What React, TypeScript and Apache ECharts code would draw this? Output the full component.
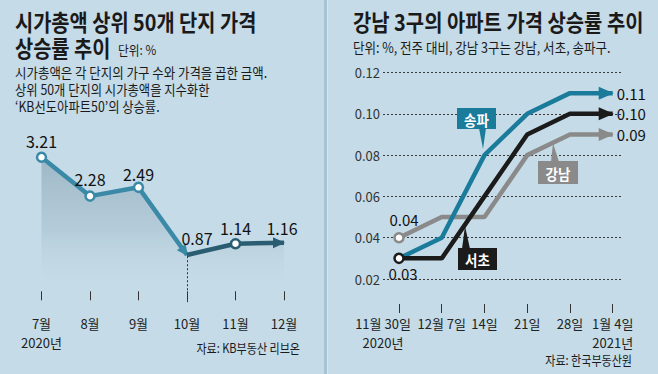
import React, { useEffect, useRef } from "react";
import * as echarts from "echarts";

// ---- data ----
const leftMonths = ["7월\n2020년", "8월", "9월", "10월", "11월", "12월"];
const leftValues = [3.21, 2.28, 2.49, 0.87, 1.14, 1.16];

const rightWeeks = ["11월 30일\n2020년", "12월 7일", "14일", "21일", "28일", "1월 4일\n2021년"];
const gangnam = [0.04, 0.05, 0.05, 0.08, 0.09, 0.09];
const seocho = [0.03, 0.03, 0.06, 0.09, 0.1, 0.1];
const songpa = [0.03, 0.04, 0.08, 0.1, 0.11, 0.11];

// ---- style ----
const BG = "#c5dbe7";
const TEAL_L = "#3a8aa7";
const DARK_L = "#2b5d72";
const TEAL = "#1b7b9b";
const GRAY = "#8a8a8a";
const BLACK = "#1b1b1b";
const KR = "'Noto Sans CJK KR', sans-serif";
const NUM = "'Liberation Sans Narrow', 'Noto Sans CJK KR', sans-serif";
const ARROW = "path://M0,0L14,6.5L0,13Z";

const fmt2 = (p: any) => Number(p.value).toFixed(2);

function T(text: string, x: number, y: number, size: number, o: any = {}) {
  return {
    type: "text",
    x,
    y,
    scaleX: o.sx ?? 0.85,
    z: 20,
    style: {
      text,
      fill: o.color ?? "#1a1a1a",
      fontSize: size,
      fontFamily: KR,
      fontWeight: o.bold ? "bold" : "normal",
      align: o.align ?? "left",
      verticalAlign: "middle",
    },
  };
}

function callout(label: string, color: string, x: number, y: number, w: number, h: number, ptr: number[][]) {
  return [
    { type: "polygon", z: 15, shape: { points: ptr }, style: { fill: color } },
    { type: "rect", z: 15, shape: { x, y, width: w, height: h }, style: { fill: color } },
    {
      type: "text",
      z: 16,
      x: x + w / 2,
      y: y + h / 2 + 0.5,
      scaleX: 0.9,
      style: { text: label, fill: "#fff", fontSize: 15, fontWeight: "bold", fontFamily: KR, align: "center", verticalAlign: "middle" },
    },
  ];
}

function rightData(vals: number[], color: string, startLabel: any) {
  return vals.map((v, i) => {
    if (i === vals.length - 1)
      return {
        value: v,
        symbol: ARROW,
        symbolSize: [15, 13],
        symbolOffset: [-6.5, 0],
        itemStyle: { color, borderWidth: 0 },
        label: { show: true, position: "right", distance: 3, formatter: fmt2 },
      };
    if (i === 0 && startLabel)
      return {
        value: v,
        symbol: "circle",
        symbolSize: 9,
        itemStyle: { color: "#fff", borderColor: color, borderWidth: 2.5 },
        label: startLabel,
      };
    return { value: v, symbol: "none" };
  });
}

const leftTeal = leftValues.map((v, i) => {
  if (i > 3) return "-";
  if (i === 3)
    return {
      value: v,
      symbol: ARROW,
      symbolSize: [11, 11],
      symbolRotate: -54,
      symbolOffset: [-2.5, -3.5],
      itemStyle: { color: TEAL_L, borderWidth: 0 },
    };
  return {
    value: v,
    symbol: "circle",
    symbolSize: 9,
    itemStyle: { color: "#fff", borderColor: TEAL_L, borderWidth: 2.5 },
    label: { show: true, position: "top", distance: i === 2 ? 0 : 3 },
  };
});

const leftDark = leftValues.map((v, i) => {
  if (i < 3) return "-";
  if (i === 3)
    return {
      value: v,
      symbol: "circle",
      symbolSize: 1,
      itemStyle: { color: "rgba(0,0,0,0)", borderWidth: 0 },
      label: { show: true, position: "top", distance: 8, offset: [10, 0] },
    };
  if (i === 5)
    return {
      value: v,
      symbol: ARROW,
      symbolSize: [12, 11],
      symbolOffset: [-5, 0],
      itemStyle: { color: DARK_L, borderWidth: 0 },
      label: { show: true, position: "top", distance: 1, offset: [3, 0] },
    };
  return {
    value: v,
    symbol: "circle",
    symbolSize: 9,
    itemStyle: { color: "#fff", borderColor: DARK_L, borderWidth: 2.5 },
    label: { show: true, position: "top", distance: 2 },
  };
});

const numLabel = { color: "#111", fontSize: 16, fontFamily: NUM };
const endLabel = { color: "#111", fontSize: 15, fontFamily: NUM };

const option: any = {
  animation: false,
  backgroundColor: BG,
  grid: [
    { left: 41.5, right: 374, top: 124.3, bottom: 70.2 },
    { left: 383, right: 36, top: 72.5, bottom: 95 },
    { left: 399, right: 45.3, top: 72.5, bottom: 95 },
  ],
  xAxis: [
    {
      gridIndex: 0,
      type: "category",
      data: leftMonths,
      boundaryGap: false,
      axisLine: { show: false },
      axisTick: { show: true, length: 9, interval: 0, lineStyle: { color: "#333", width: 1 } },
      axisLabel: { interval: 0, margin: 10, color: "#222", fontSize: 13, fontFamily: NUM, lineHeight: 19 },
    },
    { gridIndex: 1, type: "value", show: false, min: 0, max: 1 },
    {
      gridIndex: 2,
      type: "category",
      data: rightWeeks.map((w, i) => (i === 0 ? { value: w, textStyle: { padding: [0, 32, 0, 0] } } : w)),
      boundaryGap: false,
      offset: 25,
      axisLine: { show: false },
      axisTick: { show: true, length: 9, interval: 0, lineStyle: { color: "#333", width: 1 } },
      axisLabel: { interval: 0, hideOverlap: false, margin: 10, color: "#222", fontSize: 13, fontFamily: NUM, lineHeight: 19 },
    },
  ],
  yAxis: [
    { gridIndex: 0, type: "value", min: -0.3, max: 4, show: false },
    {
      gridIndex: 1,
      type: "value",
      min: 0.02,
      max: 0.12,
      interval: 0.02,
      axisLine: { show: false },
      axisTick: { show: false },
      axisLabel: { margin: 3, color: "#333", fontSize: 13, fontFamily: NUM, formatter: (v: number) => v.toFixed(2) },
      splitLine: { show: true, lineStyle: { color: "#3a3a3a", width: 1, type: [2, 2] } },
    },
    { gridIndex: 2, type: "value", min: 0.02, max: 0.12, show: false },
  ],
  series: [
    {
      type: "line",
      xAxisIndex: 0,
      yAxisIndex: 0,
      data: leftValues,
      symbol: "none",
      lineStyle: { width: 0 },
      z: 1,
      areaStyle: {
        color: {
          type: "linear",
          x: 0,
          y: 0,
          x2: 0,
          y2: 1,
          colorStops: [
            { offset: 0, color: "rgba(95,125,145,0.55)" },
            { offset: 0.55, color: "rgba(120,150,168,0.3)" },
            { offset: 1, color: "rgba(197,219,231,0)" },
          ],
        },
      },
    },
    {
      type: "line",
      xAxisIndex: 0,
      yAxisIndex: 0,
      data: leftTeal,
      symbol: "none",
      lineStyle: { color: TEAL_L, width: 4.5 },
      itemStyle: { color: TEAL_L },
      label: { ...numLabel, formatter: fmt2 },
      z: 3,
      markLine: {
        silent: true,
        symbol: "none",
        label: { show: false },
        lineStyle: { color: "#333", width: 1, type: [2, 2] },
        data: [[{ coord: [3, 0.84] }, { coord: [3, -0.26] }]],
      },
    },
    {
      type: "line",
      xAxisIndex: 0,
      yAxisIndex: 0,
      data: leftDark,
      symbol: "none",
      lineStyle: { color: DARK_L, width: 4.5 },
      itemStyle: { color: DARK_L },
      label: { ...numLabel, formatter: fmt2 },
      z: 4,
    },
    {
      type: "line",
      xAxisIndex: 2,
      yAxisIndex: 2,
      data: rightData(gangnam, GRAY, { show: true, position: "top", distance: 5, offset: [5, 0] }),
      symbol: "none",
      lineStyle: { color: GRAY, width: 4.5 },
      itemStyle: { color: GRAY },
      label: { ...endLabel, formatter: fmt2 },
      z: 3,
    },
    {
      type: "line",
      xAxisIndex: 2,
      yAxisIndex: 2,
      data: rightData(songpa, TEAL, null),
      symbol: "none",
      lineStyle: { color: TEAL, width: 4.5 },
      itemStyle: { color: TEAL },
      label: { ...endLabel, formatter: fmt2 },
      z: 4,
    },
    {
      type: "line",
      xAxisIndex: 2,
      yAxisIndex: 2,
      data: rightData(seocho, BLACK, { show: true, position: "bottom", distance: 2, offset: [4, 0] }),
      symbol: "none",
      lineStyle: { color: BLACK, width: 4.5 },
      itemStyle: { color: BLACK },
      label: { ...endLabel, formatter: fmt2 },
      z: 5,
    },
  ],
  graphic: [
    { type: "rect", z: 1, shape: { x: 324, y: 0, width: 3, height: 374 }, style: { fill: "#a6c2d3" } },
    { type: "rect", z: 1, shape: { x: 327, y: 0, width: 1, height: 374 }, style: { fill: "#d6e6ef" } },
    T("시가총액 상위 50개 단지 가격", 15, 21, 23, { bold: true, sx: 0.86 }),
    T("상승률 추이", 15, 47, 23, { bold: true, sx: 0.86 }),
    T("단위: %", 118, 50, 13, { sx: 0.9 }),
    T("시가총액은 각 단지의 가구 수와 가격을 곱한 금액.", 15, 72, 14, { sx: 0.89 }),
    T("상위 50개 단지의 시가총액을 지수화한", 15, 89, 14, { sx: 0.88 }),
    T("‘KB선도아파트50’의 상승률.", 15, 106, 14, { sx: 0.88 }),
    T("자료: KB부동산 리브온", 300, 347, 13, { align: "right", sx: 0.85 }),
    T("강남 3구의 아파트 가격 상승률 추이", 353, 21, 23, { bold: true, sx: 0.865 }),
    T("단위: %, 전주 대비, 강남 3구는 강남, 서초, 송파구.", 353, 47, 14, { sx: 0.895 }),
    T("자료: 한국부동산원", 632, 359, 13, { align: "right", sx: 0.85 }),
    ...callout("송파", TEAL, 457, 108, 39, 21, [[479, 128], [486, 128], [483, 149]]),
    ...callout("강남", GRAY, 538, 161, 40, 23, [[551, 162], [559, 162], [553, 143]]),
    ...callout("서초", BLACK, 458, 248, 39, 22, [[462, 249], [470, 249], [465, 226]]),
  ],
};

export default function App() {
  const ref = useRef<HTMLDivElement>(null);
  useEffect(() => {
    const chart = echarts.init(ref.current!, null, { renderer: "svg" });
    chart.setOption(option);
    return () => chart.dispose();
  }, []);
  return <div ref={ref} style={{ position: "absolute", left: 0, top: 0, width: 658, height: 374 }} />;
}
